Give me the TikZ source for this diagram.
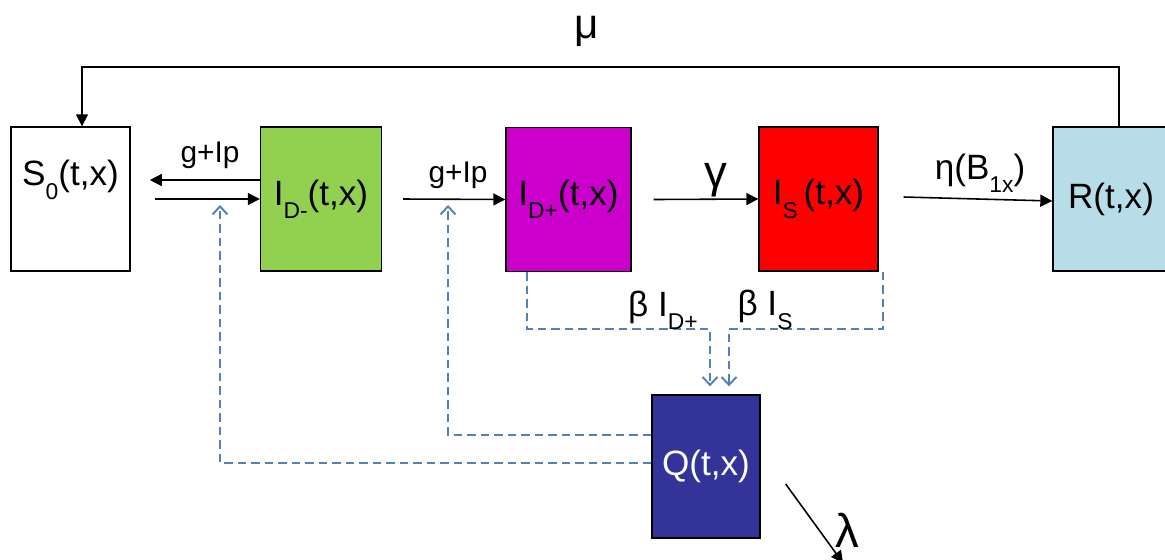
\documentclass[tikz,border=0pt]{standalone}
\usepackage{fontspec}
\setmainfont{Liberation Sans}
\usetikzlibrary{arrows.meta}

\definecolor{idmgreen}{HTML}{92D050}
\definecolor{idpmagenta}{HTML}{CC00CC}
\definecolor{isred}{HTML}{FF0000}
\definecolor{rblue}{HTML}{B7DEE8}
\definecolor{qnavy}{HTML}{333399}
\definecolor{dashblue}{HTML}{4F81BD}

\newcommand{\sub}[1]{\raisebox{-0.38em}{\fontsize{13}{15}\selectfont #1}}

\tikzset{
    compbox/.style={draw, line width=0.8pt, inner sep=0pt, minimum height=2.88cm,
        font=\fontsize{20}{24}\selectfont},
    flow/.style={line width=0.9pt, -{Triangle[length=0.24cm,width=0.24cm]}},
    dflow/.style={line width=1.1pt, dashblue, dash pattern=on 0.17cm off 0.1cm,
        -{Straight Barb[length=0.16cm,width=0.3cm]}},
    rate/.style={font=\fontsize{17}{20}\selectfont},
}

\begin{document}
\begin{tikzpicture}[x=0.02cm, y=-0.02cm]
    \useasboundingbox (0,0) rectangle (1165,559);
    \clip (0,0) rectangle (1165,559);

    % compartments
    \node[compbox, minimum width=2.38cm, fill=white,
        label={[font=\fontsize{20}{24}\selectfont, yshift=0.38cm]center:S\sub{0}(t,x)}]
        (S0) at (70.5,199) {};
    \node[compbox, minimum width=2.42cm, fill=idmgreen] (IDm) at (321,199) {I\sub{D-}(t,x)};
    \node[compbox, minimum width=2.5cm, fill=idpmagenta] (IDp) at (568.5,199.5) {I\sub{D+}(t,x)};
    \node[compbox, minimum width=2.38cm, fill=isred] (IS) at (818.5,199) {I\sub{S}\,(t,x)};
    \node[compbox, minimum width=2.32cm, fill=rblue] (R) at (1111,199) {R(t,x)};
    \node[compbox, minimum width=2.16cm, minimum height=2.86cm, fill=qnavy,
        text=white] (Q) at (706,466.5) {Q(t,x)};

    % recovery back to S0
    \coordinate (muR) at (1119,67);
    \coordinate (muL) at (82,67);
    \draw[flow] (R.north -| muR) -- (muR) -- (muL) -- (S0.north -| muL);
    \node[font=\fontsize{24}{28}\selectfont] (mu) at (587,31) {μ};

    % solid transitions
    \draw[flow] ([yshift=0.38cm]IDm.west) -- ++(-2.2cm,0);
    \draw[flow] ([xshift=0.48cm]S0.east) -- (IDm.west);
    \node[rate] (gIp1) at (210,155) {g+Ip};

    \draw[flow] ([xshift=0.42cm]IDm.east) -- (IDp.west);
    \node[rate] (gIp2) at (458,175) {g+Ip};

    \draw[flow] ([xshift=0.44cm]IDp.east) -- (IS.west);
    \node[font=\fontsize{26}{30}\selectfont] (gam) at (716,180) {γ};

    \draw[flow] ([xshift=0.5cm,yshift=0.04cm]IS.east) -- ([yshift=-0.04cm]R.west);
    \node[font=\fontsize{20}{24}\selectfont] (eta) at (980,173) {η(B\sub{1x})};

    % quarantine links
    \coordinate (jD) at (710,329);
    \coordinate (jS) at (729,329);
    \draw[dflow] ([xshift=-0.83cm]IDp.south) |- (jD) -- ([yshift=0.16cm]Q.north -| jD);
    \draw[dflow] ([xshift=1.29cm]IS.south) |- (jS) -- ([yshift=0.16cm]Q.north -| jS);
    \node[font=\fontsize{20}{24}\selectfont] (bD) at (663,310) {β I\sub{D+}};
    \node[font=\fontsize{20}{24}\selectfont] (bS) at (765,310) {β I\sub{S}};

    \coordinate (inDm) at (220,205);
    \coordinate (inDp) at (448,205);
    \draw[dflow] ([yshift=0.07cm]Q.west) -| (inDm);
    \draw[dflow] ([yshift=0.63cm]Q.west) -| (inDp);

    % removal
    \coordinate (lamEnd) at (843,563);
    \draw[flow] ([xshift=0.5cm,yshift=-0.35cm]Q.east) -- (lamEnd);
    \node[font=\fontsize{27}{30}\selectfont] (lam) at (847,530) {λ};
\end{tikzpicture}
\end{document}
